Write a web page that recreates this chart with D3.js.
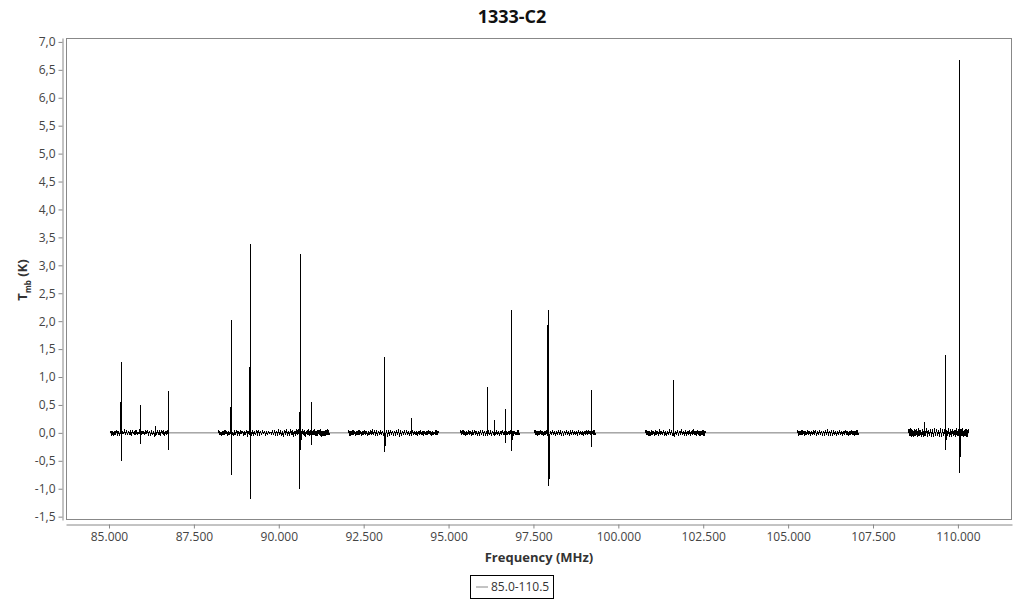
<!DOCTYPE html>
<html><head><meta charset="utf-8">
<script src="https://cdn.jsdelivr.net/npm/d3@7"></script>
<style>
body{margin:0;background:#fff;}
text{font-family:"Open Sans","Noto Sans",sans-serif;}
</style></head>
<body><svg id="c" width="1024" height="600"></svg>
<script>
// ---- data ----
const title = "1333-C2";
const seriesName = "85.0-110.5";
const xTicks = [85000, 87500, 90000, 92500, 95000, 97500, 100000, 102500, 105000, 107500, 110000];
const yTicks = [-1.5, -1.0, -0.5, 0, 0.5, 1.0, 1.5, 2.0, 2.5, 3.0, 3.5, 4.0, 4.5, 5.0, 5.5, 6.0, 6.5, 7.0];
// sub-band frequency ranges (MHz)
const bandStart = [85029, 88210, 92039, 95337, 97516, 100785, 105261, 108530];
const bandEnd   = [86767, 91508, 94719, 97104, 99342, 102581, 107087, 110327];
// baseline noise (K) per band
const noise1 = [0,.03,-.04,.02,-.05,.04,-.02,.05,-.03,.01,-.04,.03,-.05,.02,-.01,.04,-.03,.05,-.04,.02,-.02,.03,-.05,.04,-.01,.02,-.04,.05,-.03,.01,-.02,.04,-.05,.03,-.02,.02,-.04,.05,-.01,.03,-.03,.04,-.05,.02,-.02,.01,-.04,.03,-.03,.05,-.02,.02,-.05,.04,-.01,.03,-.04,.02,-.03,.04,-.02,0];
const noise2 = [0,.04,-.03,.02,-.05,.03,-.04,.05,-.02,.03,-.05,.02,-.03,.04,-.04,.01,-.05,.03,-.02,.05,-.03,
.02,-.04,.04,-.01,.03,-.05,.02,-.03,.05,-.04,.01,-.02,.04,-.05,.03,-.03,.02,-.04,.05,-.02,
.03,-.03,.02,-.02,.03,-.01,.02,-.03,.01,-.02,.02,-.01,.01,-.02,.03,-.02,.02,-.03,.04,-.05,
.06,-.04,.05,-.06,.03,-.07,.05,-.04,.07,-.05,.04,-.06,.06,-.03,.05,-.07,.04,-.05,.06,-.04,
.07,-.06,.03,-.05,.06,-.04,.05,-.07,.04,-.03,.06,-.05,.05,-.06,.03,-.04,.07,-.05,.04,-.06,
.05,-.03,.06,-.07,.04,-.05,.03,-.06,.05,-.04,.06,-.03,0];
const noise3 = [0,.04,-.05,.03,-.04,.05,-.03,.02,-.05,.04,-.04,.05,-.02,.03,-.05,.04,-.03,.05,-.04,.02,-.05,
.03,-.04,.05,-.03,.04,-.02,.03,-.05,.02,-.03,.04,-.04,.03,-.02,.02,-.03,.04,-.02,.03,-.04,
.02,-.03,.05,-.04,.03,-.05,.04,-.02,.05,-.03,.03,-.04,.02,-.05,.04,-.03,.05,-.04,.03,-.02,
.04,-.05,.03,-.04,.05,-.03,.02,-.04,.04,-.05,.03,-.03,.05,-.04,.02,-.05,.04,-.03,.03,-.04,
.05,-.02,.04,-.05,.03,-.04,.02,-.03,.05,-.04,.03,0];
const noise4 = [0,.04,-.03,.05,-.04,.03,-.05,.02,-.04,.05,-.03,.04,-.05,.03,-.02,.05,-.04,.02,-.05,.04,-.03,
.03,-.04,.05,-.02,.04,-.05,.03,-.03,.05,-.04,.02,-.05,.04,-.03,.05,-.02,.03,-.04,.04,-.05,
.03,-.04,.05,-.03,.02,-.05,.04,-.04,.03,-.02,.05,-.04,.03,-.05,.04,-.03,.02,-.04,.05,-.03,0];
const noise5 = [0,.05,-.04,.03,-.05,.04,-.03,.05,-.04,.02,-.05,.04,-.03,.05,-.05,.03,-.04,.04,-.02,.05,-.04,
.03,-.05,.04,-.03,.05,-.04,.02,-.03,.04,-.05,.03,-.04,.05,-.03,.04,-.05,.02,-.04,.05,-.03,
.04,-.04,.03,-.05,.05,-.03,.02,-.04,.04,-.05,.03,-.03,.05,-.04,.04,-.02,.03,-.05,.04,-.03,
.05,-.04,0];
const noise6 = [0,.05,-.04,.04,-.06,.03,-.05,.05,-.03,.04,-.06,.05,-.04,.03,-.05,.06,-.04,.04,-.03,.05,-.06,
.03,-.05,.04,-.04,.06,-.03,.05,-.05,.04,-.06,.03,-.04,.05,-.05,.04,-.03,.06,-.04,.03,-.05,
.05,-.06,.04,-.03,.05,-.05,.03,-.04,.06,-.04,.04,-.05,.05,-.03,.04,-.06,.03,-.04,.05,-.05,
.04,0];
const noise7 = [0,.04,-.05,.03,-.04,.05,-.03,.04,-.05,.02,-.04,.05,-.03,.03,-.05,.04,-.04,.05,-.02,.03,-.05,
.04,-.03,.05,-.04,.03,-.05,.04,-.02,.05,-.04,.03,-.03,.04,-.05,.05,-.03,.02,-.04,.04,-.05,
.03,-.04,.05,-.03,.04,-.05,.03,-.04,.05,-.02,.04,-.05,.03,-.04,.05,-.03,.04,-.05,.03,-.04,
.05,-.03,0];
const noise8 = [0,.07,-.06,.08,-.07,.05,-.08,.07,-.05,.06,-.08,.08,-.06,.05,-.07,.07,-.08,.06,-.05,.08,-.07,
.05,-.06,.07,-.08,.06,-.07,.08,-.05,.07,-.06,.05,-.08,.08,-.07,.06,-.05,.07,-.08,.05,-.06,
.08,-.07,.06,-.08,.07,-.05,.05,-.07,.08,-.06,.06,-.08,.07,-.05,.08,-.07,.05,-.06,.07,-.08,
.06,0];
const bandNoise = [noise1, noise2, noise3, noise4, noise5, noise6, noise7, noise8];
// spectral lines: frequency (MHz), peak (K), trough (K)
const lineFreq = [85370, 85930, 86370, 86750, 88610, 89170, 90610, 90640, 90965, 93120, 93910, 96150, 96355, 96680, 96865, 97930, 97955, 99215, 101635, 109020, 109640, 110060];
const linePeak = [1.27, 0.50, 0.12, 0.75, 2.02, 3.38, 0.38, 3.20, 0.55, 1.35, 0.27, 0.83, 0.23, 0.42, 2.20, 2.20, 0.25, 0.77, 0.95, 0.20, 1.40, 6.68];
const lineDip  = [-0.50, -0.20, -0.05, -0.30, -0.75, -1.18, -1.00, -0.30, -0.22, -0.35, -0.05, -0.06, -0.05, -0.18, -0.32, -0.65, -0.95, -0.25, -0.05, -0.05, -0.30, -0.72];

// ---- build points per band ----
const bands = bandNoise.map((arr, b) => {
  const s = bandStart[b], e = bandEnd[b];
  const step = (e - s) / (arr.length - 1);
  const p = arr.map((v, i) => ({f: s + i * step, v, o: 0}));
  lineFreq.forEach((f, i) => {
    if (f >= s && f <= e) { p.push({f, v: linePeak[i], o: 1}); p.push({f, v: lineDip[i], o: 2}); }
  });
  p.sort((a, c) => a.f - c.f || a.o - c.o);
  return p;
});

// ---- chart ----
const svg = d3.select("#c");
const L = 66, R = 1012, T = 38, B = 520;
const x = d3.scaleLinear().domain([83734, 111593]).range([L, R]);
const y = d3.scaleLinear().domain([-1.56, 7.07]).range([B, T]);
const loc = d3.formatLocale({decimal: ",", thousands: ".", grouping: [3], currency: ["", ""], minus: "-"});
const fx = loc.format(",.0f"), fy = loc.format(".1f");

svg.append("text").attr("x", 512).attr("y", 23).attr("text-anchor", "middle")
  .attr("font-size", 18).attr("font-weight", "bold").attr("fill", "#111").text(title);

// plot box
svg.append("rect").attr("x", L + 0.5).attr("y", T + 0.5).attr("width", R - L - 1).attr("height", B - T - 1)
  .attr("fill", "none").attr("stroke", "#888");

// y axis
const ya = svg.append("g").attr("transform", "translate(62.5,0)")
  .call(d3.axisLeft(y).tickValues(yTicks).tickFormat(fy).tickSize(4).tickPadding(3).tickSizeOuter(0));
// x axis
const xa = svg.append("g").attr("transform", "translate(0,524.5)")
  .call(d3.axisBottom(x).tickValues(xTicks).tickFormat(fx).tickSize(4).tickPadding(4).tickSizeOuter(0));
[ya, xa].forEach(g => {
  g.select(".domain").attr("stroke", "#888");
  g.selectAll(".tick line").attr("stroke", "#888");
  g.selectAll(".tick text").attr("fill", "#444").attr("font-size", 12).attr("font-family", '"Open Sans",sans-serif');
});

// connecting baseline between sub-bands (the series passes through zero there)
svg.append("line")
  .attr("x1", x(bandStart[0])).attr("x2", x(bandEnd[bandEnd.length - 1]))
  .attr("y1", y(0)).attr("y2", y(0)).attr("stroke", "#777").attr("stroke-width", 1);

// data line, one path per sub-band
const line = d3.line().x(d => x(d.f)).y(d => y(d.v));
svg.append("g").selectAll("path").data(bands).join("path")
  .attr("fill", "none").attr("stroke", "#000").attr("stroke-width", 1)
  .attr("shape-rendering", "crispEdges")
  .attr("d", line);

// axis titles
svg.append("text").attr("x", 539).attr("y", 562).attr("text-anchor", "middle")
  .attr("font-size", 13).attr("font-weight", "bold").attr("fill", "#333").text("Frequency (MHz)");
const yt = svg.append("text").attr("transform", "translate(27,280) rotate(-90)").attr("text-anchor", "middle")
  .attr("font-size", 13).attr("font-weight", "bold").attr("fill", "#333");
yt.append("tspan").text("T");
yt.append("tspan").attr("font-size", 8).attr("dy", 4).text("mb");
yt.append("tspan").attr("dy", -4).text(" (K)");

// legend
const lg = svg.append("g");
lg.append("rect").attr("x", 470.5).attr("y", 575.5).attr("width", 83).attr("height", 23)
  .attr("fill", "#fff").attr("stroke", "#000");
lg.append("line").attr("x1", 476).attr("x2", 488).attr("y1", 587).attr("y2", 587).attr("stroke", "#888");
lg.append("text").attr("x", 491).attr("y", 591).attr("font-size", 12).attr("fill", "#333").text(seriesName);
</script></body></html>
